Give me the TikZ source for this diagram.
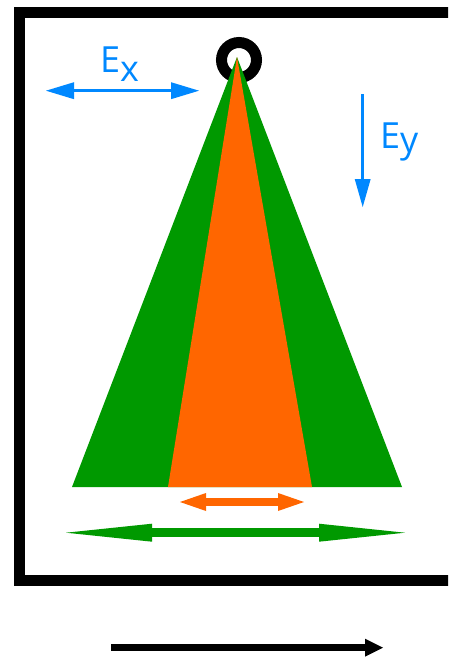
\documentclass[tikz,border=0pt]{standalone}
\usepackage{fontspec}
\setmainfont{Open Sans}
\usetikzlibrary{arrows.meta}
\definecolor{eblue}{HTML}{0088FF}
\definecolor{cgreen}{HTML}{009900}
\definecolor{corange}{HTML}{FF6600}
\tikzset{
  lbl/.style={text=eblue,font=\fontsize{36}{40}\selectfont,inner sep=0pt,anchor=base west},
  bluearrow/.style={draw=eblue,line width=3.5pt},
}
\begin{document}
\begin{tikzpicture}[x=1pt,y=-1pt]
\useasboundingbox (0,0) rectangle (448,659);
\begin{scope}
\clip (0,0) rectangle (448,659);
\draw[line width=11pt] (19.5,12.5) rectangle (470,580.5);
\end{scope}
% ring
\node[circle,draw=black,line width=11pt,minimum size=35pt,inner sep=0pt] (ring) at (239,60) {};
% cones
\coordinate (apex) at (237,57);
\coordinate (gl) at (72,487);
\coordinate (gr) at (402,487);
\coordinate (ol) at (168,487);
\coordinate (or) at (312,487);
\fill[cgreen] (apex) -- (gl) -- (gr) -- cycle;
\fill[corange] (apex) -- (ol) -- (or) -- cycle;
% Ex
\coordinate (exa) at (46,90.7);
\coordinate (exb) at (199,90.7);
\draw[bluearrow,{Triangle[length=28pt,width=17pt,line width=0pt]}-{Triangle[length=28pt,width=17pt,line width=0pt]}] (exa) -- (exb);
\node[lbl] (ex) at (100,72.3) {E\raisebox{-9.4pt}{x}};
% Ey
\coordinate (eya) at (362.7,94);
\coordinate (eyb) at (362.7,207);
\draw[bluearrow,-{Triangle[length=28pt,width=16pt,line width=0pt]}] (eya) -- (eyb);
\node[lbl] (ey) at (380,148.3) {E\raisebox{-4pt}{y}};
% orange arrow
\coordinate (oa) at (180,502);
\coordinate (ob) at (304,502);
\draw[corange,line width=8pt,{Triangle[length=26pt,width=18pt,line width=0pt]}-{Triangle[length=26pt,width=18pt,line width=0pt]}] (oa) -- (ob);
% green arrow
\coordinate (ga) at (66,532.7);
\coordinate (gb) at (405,532.7);
\draw[cgreen,line width=9pt,{Triangle[length=86pt,width=18pt,line width=0pt]}-{Triangle[length=86pt,width=18pt,line width=0pt]}] (ga) -- (gb);
% black arrow
\coordinate (ba) at (111,647.7);
\coordinate (bb) at (383,647.7);
\draw[black,line width=7pt,-{Triangle[length=18pt,width=18pt,line width=0pt]}] (ba) -- (bb);
\end{tikzpicture}
\end{document}
